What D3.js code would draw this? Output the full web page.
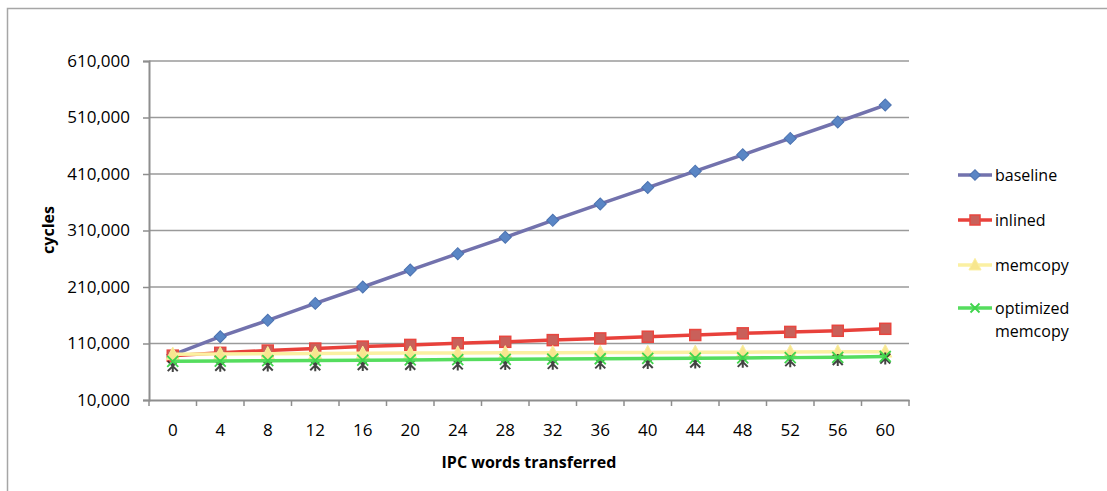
<!DOCTYPE html>
<html><head><meta charset="utf-8">
<script src="https://cdn.jsdelivr.net/npm/d3@7"></script>
<style>
html,body{margin:0;padding:0;background:#fff;}
svg{display:block;font-family:"Open Sans",sans-serif;}
</style></head>
<body>
<svg id="chart" width="1107" height="491"></svg>
<script>
const categories = [0,4,8,12,16,20,24,28,32,36,40,44,48,52,56,60];
const baseline  = [90000,122000,151000,181000,210000,240000,269000,298000,328000,357000,386000,415000,444000,473000,502000,532000];
const inlined   = [88500,93500,97500,101000,104500,107500,110500,113000,116000,119000,122000,125000,128000,130500,132500,136000];
const memcopy   = [91000,91500,92000,92300,92600,93000,93200,93500,93700,94000,94200,94500,94700,95000,95200,95500];
const optimized = [78500,79000,79500,80000,80500,81000,81500,82000,82500,83000,83500,84000,84500,85000,85500,87000];
const shadow    = [70000,70500,71000,71500,72000,72500,73000,73500,74000,74800,75500,76500,77500,78800,80800,83500];
const yTicks    = [10000,110000,210000,310000,410000,510000,610000];
const seriesNames = ["baseline","inlined","memcopy","optimized memcopy"];

const svg = d3.select("#chart");
const L = 149, R = 909, T = 61, B = 400;

// outer frame
svg.append("rect").attr("x",7.5).attr("y",8.5).attr("width",1300).attr("height",700)
  .attr("fill","none").attr("stroke","#a6a6a6").attr("stroke-width",1.5);

const x = d3.scaleBand().domain(categories).range([L,R]).padding(0);
const y = d3.scaleLinear().domain([10000,610000]).range([B,T]);
const cx = d => x(d) + x.bandwidth()/2;

// gridlines
svg.append("g").selectAll("line").data(yTicks.slice(1)).join("line")
  .attr("x1",L).attr("x2",R).attr("y1",d=>y(d)).attr("y2",d=>y(d))
  .attr("stroke","#9a9a9a").attr("stroke-width",1.5);

// y axis
const yAxis = svg.append("g").attr("transform",`translate(${L},0)`)
  .call(d3.axisLeft(y).tickValues(yTicks).tickFormat(d3.format(",")).tickSize(6).tickPadding(13));
yAxis.select(".domain").attr("stroke","#8e8e8e").attr("stroke-width",2);
yAxis.selectAll(".tick line").attr("stroke","#8e8e8e").attr("stroke-width",1.5);
yAxis.selectAll("text").attr("font-size",17).attr("fill","#000").attr("font-family","Open Sans");

// x axis
const xAxis = svg.append("g").attr("transform",`translate(0,${B})`)
  .call(d3.axisBottom(x).tickSize(0).tickPadding(24));
xAxis.select(".domain").attr("stroke","#8e8e8e").attr("stroke-width",2);
xAxis.selectAll("text").attr("font-size",17).attr("fill","#000").attr("font-family","Open Sans");
const bounds = categories.map(d=>x(d)).concat([x.range()[1]]);
svg.append("g").selectAll("line").data(bounds).join("line")
  .attr("x1",d=>d).attr("x2",d=>d).attr("y1",B).attr("y2",B+6)
  .attr("stroke","#8e8e8e").attr("stroke-width",1.5);

// axis titles
svg.append("text").attr("x",(L+R)/2).attr("y",468).attr("text-anchor","middle")
  .attr("font-size",16).attr("font-weight","bold").text("IPC words transferred");
svg.append("text").attr("transform","translate(54,230) rotate(-90)").attr("text-anchor","middle")
  .attr("font-size",16).attr("font-weight","bold").text("cycles");

// marker drawers
const diamond = (g,s)=> g.append("path").attr("d",d3.symbol(d3.symbolSquare, s*s)())
  .attr("transform","rotate(45)").attr("fill","#5a86c5").attr("stroke","#4a72b0").attr("stroke-width",1);
const square = (g,s)=> g.append("rect").attr("x",-s/2).attr("y",-s/2).attr("width",s).attr("height",s)
  .attr("fill","#c9605a").attr("stroke","#e8463f").attr("stroke-width",1.5);
const triangle = (g,s)=> g.append("path").attr("d",`M0,${-s*0.6}L${s*0.55},${s*0.45}L${-s*0.55},${s*0.45}Z`)
  .attr("fill","#f7e68f").attr("stroke","#fbee9e").attr("stroke-width",1);
const cross = (g,s)=> g.append("path").attr("d",`M${-s/2},${-s/2}L${s/2},${s/2}M${-s/2},${s/2}L${s/2},${-s/2}`)
  .attr("stroke","#3fd44c").attr("stroke-width",1.8).attr("fill","none");
const star = (g,s)=> g.append("path").attr("d",`M${-s/2},${-s/2}L${s/2},${s/2}M${-s/2},${s/2}L${s/2},${-s/2}M0,${-s*0.6}L0,${s*0.6}`)
  .attr("stroke","#222").attr("stroke-width",2).attr("fill","none").attr("opacity",0.85);

// drawing order like the original: earlier series underneath
const series = [
  {vals:baseline, line:"#7272ad", marker:diamond, size:8.5},
  {vals:inlined, line:"#e8413b", marker:square, size:11},
  {vals:memcopy, line:"#fbf0a2", marker:triangle, size:12},
  {vals:shadow, line:null, marker:star, size:10},
  {vals:optimized, line:"#55dd5e", marker:cross, size:11}
];

const lineGen = d3.line().x((v,i)=>cx(categories[i])).y(v=>y(v));
series.forEach(s=>{
  if (s.line) {
    svg.append("path").datum(s.vals).attr("d",lineGen).attr("fill","none")
      .attr("stroke",s.line).attr("stroke-width",3.5).attr("stroke-linejoin","round");
  }
  s.vals.forEach((v,i)=>{
    const g = svg.append("g").attr("transform",`translate(${cx(categories[i])},${y(v)})`);
    s.marker(g,s.size);
  });
});

// legend
const legendY = [175,220,265,308];
const legendDefs = [
  {color:"#7272ad", marker:diamond, size:7.5},
  {color:"#e8413b", marker:square, size:10},
  {color:"#fbf0a2", marker:triangle, size:11},
  {color:"#55dd5e", marker:cross, size:9}
];
legendDefs.forEach((d,i)=>{
  const g = svg.append("g").attr("transform",`translate(0,${legendY[i]})`);
  g.append("line").attr("x1",958).attr("x2",992).attr("y1",0).attr("y2",0)
    .attr("stroke",d.color).attr("stroke-width",3.5);
  const m = g.append("g").attr("transform","translate(975,0)");
  d.marker(m,d.size);
  const t = g.append("text").attr("x",995).attr("y",6).attr("font-size",16).attr("fill","#000");
  if (i===3) {
    t.append("tspan").attr("x",995).text("optimized");
    t.append("tspan").attr("x",995).attr("dy",23).text("memcopy");
  } else {
    t.text(seriesNames[i]);
  }
});
</script>
</body></html>
